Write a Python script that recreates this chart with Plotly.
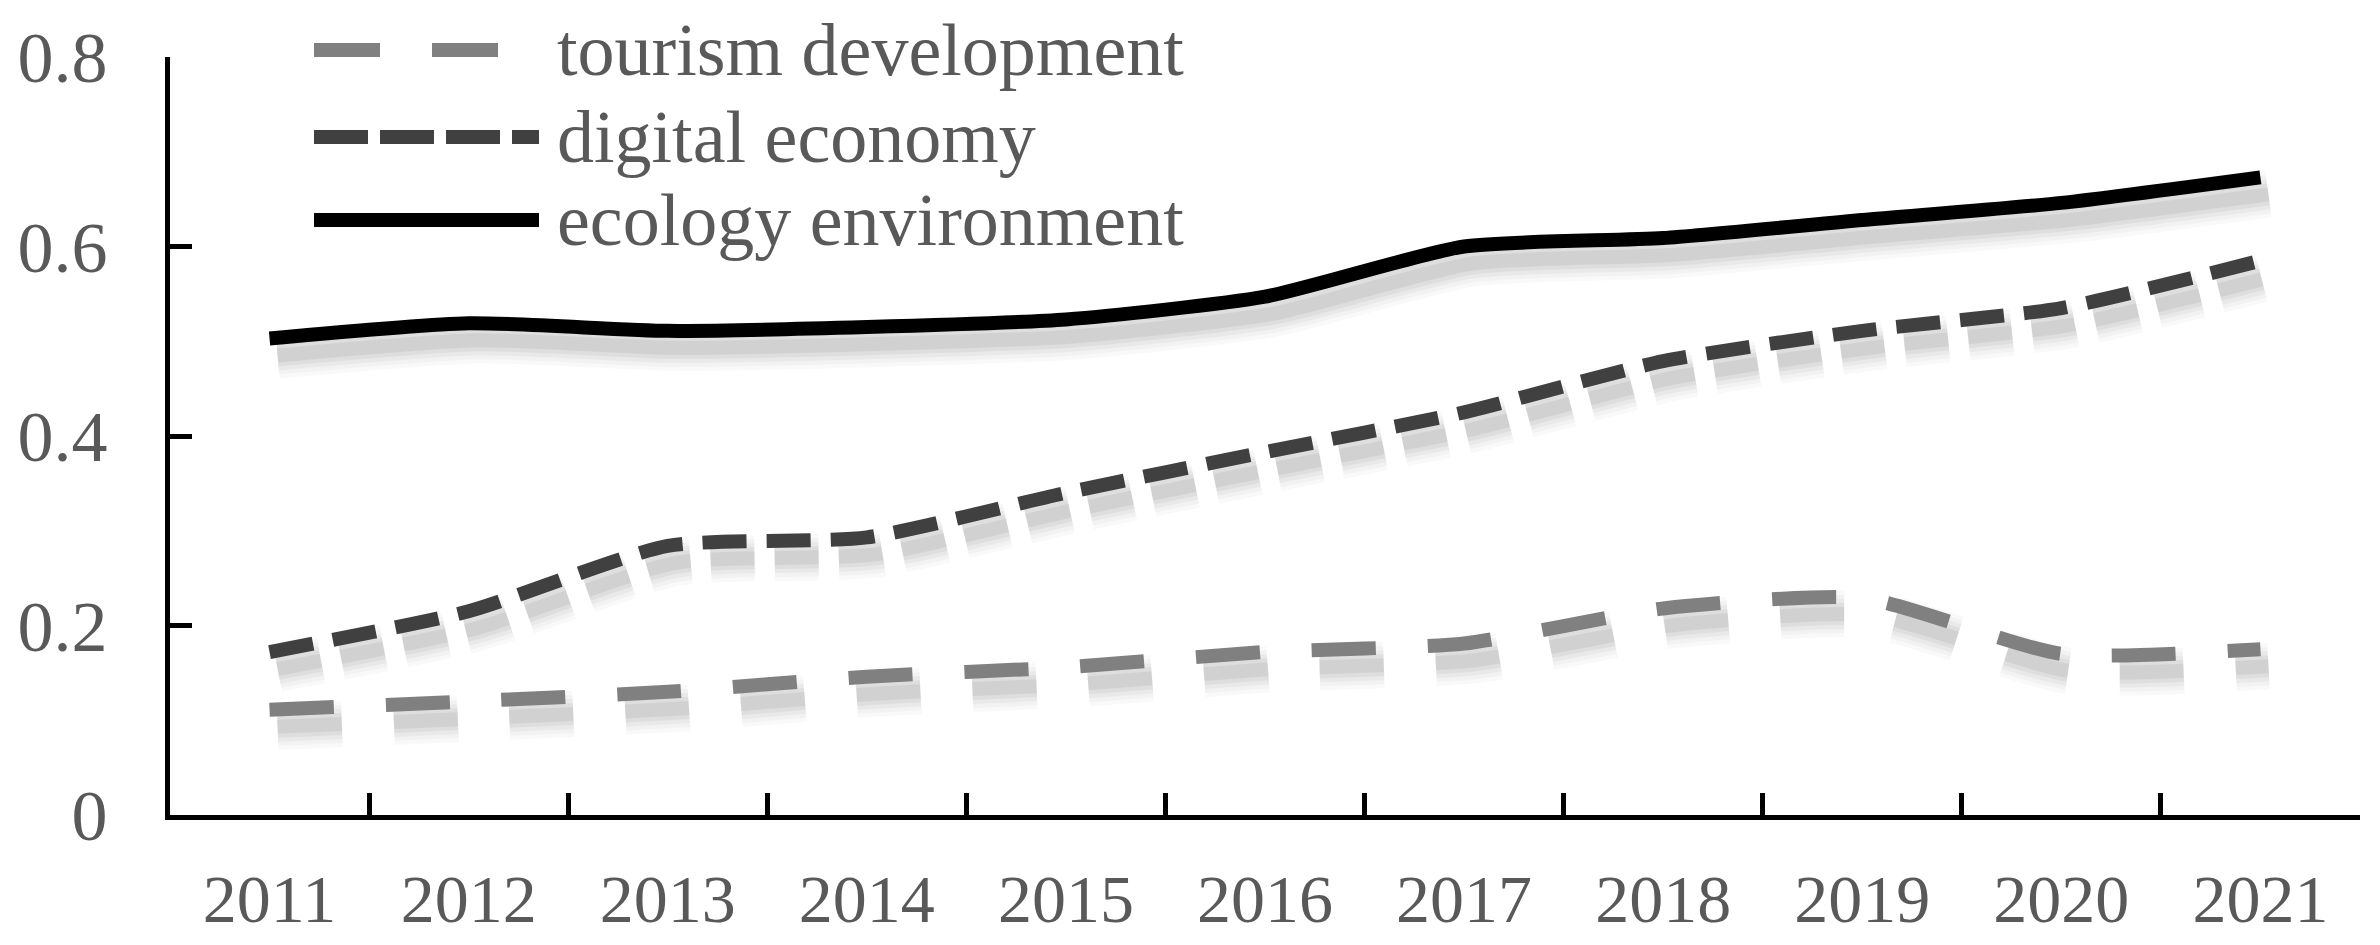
import plotly.graph_objects as go

years = ['2011', '2012', '2013', '2014', '2015', '2016', '2017', '2018', '2019', '2020', '2021']
tourism = [0.111, 0.120, 0.130, 0.146, 0.156, 0.172, 0.181, 0.218, 0.229, 0.170, 0.175]
digital = [0.172, 0.215, 0.284, 0.293, 0.340, 0.383, 0.425, 0.479, 0.511, 0.535, 0.585]
ecology = [0.503, 0.519, 0.511, 0.515, 0.523, 0.547, 0.600, 0.609, 0.628, 0.646, 0.673]

names = ['tourism development', 'digital economy', 'ecology environment']
colors = ['#808080', '#404040', '#000000']
dashes = ['64px,52px', '44px,20px', 'solid']
legend_dashes = ['66px,52px', '54px,12px', 'solid']

# page body has an 8px margin, so the figure is offset by 8px
W, H = 2372, 937
L, R, T, B = 162, 20, 49, 130
pw, ph = W - L - R, H - T - B

# shadow offset in px, done by shifting the hidden base axes
sdx, sdy = 8, 17
ymax = 0.8
xr = [-0.5 - sdx * 11 / pw, 10.5 - sdx * 11 / pw]
yr = [sdy * ymax / ph, ymax + sdy * ymax / ph]

font = 'Liberation Serif'
txt = '#595959'

fig = go.Figure()

# soft drop shadow: stacked translucent strokes
blur = [(46, 0.02), (38, 0.025), (30, 0.03), (22, 0.04), (14, 0.05)]
series = [tourism, digital, ecology]
for vals, dash in zip(series, dashes):
    for w, op in blur:
        fig.add_trace(go.Scatter(
            x=years, y=vals, mode='lines',
            line=dict(color='black', width=w, dash=dash, shape='spline', smoothing=0.6),
            opacity=op, hoverinfo='skip', showlegend=False,
            xaxis='x', yaxis='y'))

for vals, name, c, dash in zip(series, names, colors, dashes):
    fig.add_trace(go.Scatter(
        x=years, y=vals, mode='lines', name=name,
        line=dict(color=c, width=14, dash=dash, shape='spline', smoothing=0.6),
        showlegend=False, xaxis='x2', yaxis='y2'))

# hand-drawn legend (long line samples)
leg_y = [42, 129, 212]
x0 = (306 - L) / pw
x1 = (531 - L) / pw
xt = (547 - L) / pw
for yy, name, c, dash in zip(leg_y, names, colors, legend_dashes):
    yp = (H - B - yy) / ph
    fig.add_shape(type='line', xref='paper', yref='paper', x0=x0, x1=x1, y0=yp, y1=yp,
                  line=dict(color=c, width=14, dash=dash))
    fig.add_annotation(x=xt, y=yp, xref='paper', yref='paper', text=name, showarrow=False,
                       xanchor='left', yanchor='middle',
                       font=dict(family=font, size=74, color=txt))

fig.update_layout(
    width=W, height=H,
    margin=dict(l=L, r=R, t=T, b=B, autoexpand=False),
    plot_bgcolor='white', paper_bgcolor='white',
    showlegend=False,
    font=dict(family=font, size=72, color=txt),
    xaxis=dict(type='category', range=xr, visible=False, fixedrange=True, automargin=False),
    yaxis=dict(range=yr, visible=False, fixedrange=True, automargin=False),
    xaxis2=dict(type='category', overlaying='x', anchor='y2', side='bottom', automargin=False,
                range=[-0.5, 10.5], showline=True, linecolor='black', linewidth=5,
                ticks='inside', tickson='boundaries', ticklen=22, tickwidth=5, tickcolor='black',
                showgrid=False, zeroline=False, ticklabelstandoff=20,
                tickfont=dict(family=font, size=68, color=txt)),
    yaxis2=dict(overlaying='y', anchor='x2', side='left', automargin=False,
                range=[0, ymax], dtick=0.2, showline=True, linecolor='black', linewidth=5,
                ticks='inside', ticklen=22, tickwidth=5, tickcolor='black',
                showgrid=False, zeroline=False, ticklabelstandoff=43,
                tickfont=dict(family=font, size=72, color=txt)),
)

fig.write_html('out.html')
